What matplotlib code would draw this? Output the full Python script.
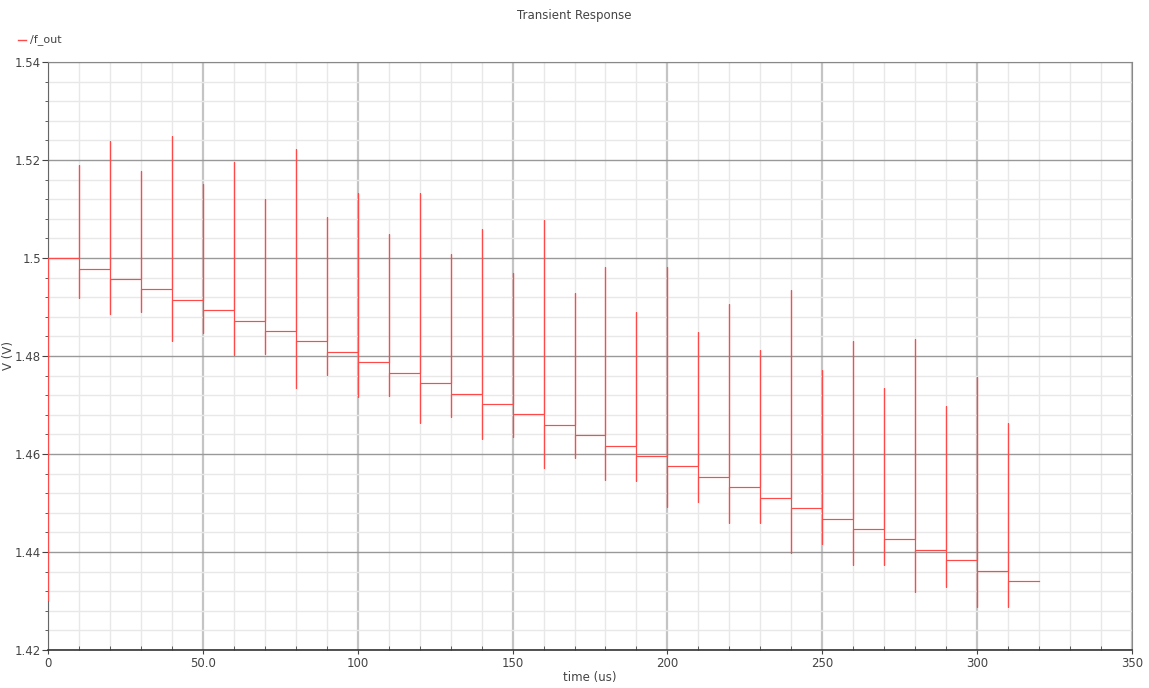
import matplotlib
matplotlib.use("Agg")
import matplotlib.pyplot as plt
from matplotlib.ticker import MultipleLocator
from matplotlib.lines import Line2D

# step times (us) and the settled level after each step
step_t = [0, 10, 20, 30, 40, 50, 60, 70, 80, 90, 100, 110, 120, 130, 140, 150,
          160, 170, 180, 190, 200, 210, 220, 230, 240, 250, 260, 270, 280, 290, 300, 310]
levels = [1.5000, 1.4978, 1.4957, 1.4936, 1.4915, 1.4893, 1.4872, 1.4851,
          1.4830, 1.4808, 1.4787, 1.4766, 1.4745, 1.4723, 1.4702, 1.4681,
          1.4660, 1.4638, 1.4617, 1.4596, 1.4575, 1.4553, 1.4532, 1.4511,
          1.4490, 1.4468, 1.4447, 1.4426, 1.4404, 1.4383, 1.4362, 1.4341]
# glitch extremes at each switching instant (t = 0 only has a low edge)
spike_hi = [1.5000, 1.5190, 1.5239, 1.5178, 1.5249, 1.5151, 1.5196, 1.5120,
            1.5222, 1.5084, 1.5133, 1.5049, 1.5133, 1.5008, 1.5059, 1.4969,
            1.5078, 1.4929, 1.4982, 1.4890, 1.4982, 1.4849, 1.4906, 1.4812,
            1.4935, 1.4771, 1.4831, 1.4735, 1.4835, 1.4698, 1.4757, 1.4663]
spike_lo = [1.4302, 1.4918, 1.4886, 1.4890, 1.4831, 1.4847, 1.4802, 1.4804,
            1.4735, 1.4761, 1.4716, 1.4718, 1.4663, 1.4676, 1.4631, 1.4635,
            1.4571, 1.4592, 1.4547, 1.4545, 1.4492, 1.4502, 1.4459, 1.4459,
            1.4398, 1.4416, 1.4373, 1.4373, 1.4318, 1.4329, 1.4288, 1.4288]
t_end = 320

# build the waveform path
xs, ys = [], []
for i, t in enumerate(step_t):
    if i > 0:
        xs += [t, t, t]
        ys += [levels[i - 1], spike_hi[i], spike_lo[i]]
    else:
        xs += [t]
        ys += [spike_lo[i]]
    xs.append(t)
    ys.append(levels[i])
xs.append(t_end)
ys.append(levels[-1])

plt.rcParams['font.family'] = ['DejaVu Sans']
fig = plt.figure(figsize=(11.49, 6.88), dpi=100, facecolor='white')
ax = fig.add_axes([48 / 1149, 38 / 688, 1084 / 1149, 588 / 688])

ax.plot(xs, ys, color='#ff4a4a', lw=0.85, zorder=3)

ax.set_xlim(0, 350)
ax.set_ylim(1.42, 1.54)

ax.xaxis.set_minor_locator(MultipleLocator(10))
ax.yaxis.set_minor_locator(MultipleLocator(0.004))
ax.set_xticks([0, 50, 100, 150, 200, 250, 300, 350])
ax.set_xticklabels(['0', '50.0', '100', '150', '200', '250', '300', '350'])
ax.set_yticks([1.42, 1.44, 1.46, 1.48, 1.50, 1.52, 1.54])
ax.set_yticklabels(['1.42', '1.44', '1.46', '1.48', '1.5', '1.52', '1.54'])

# grids: minor light, vertical majors pale and thick, horizontal majors darker
ax.grid(which='minor', color='#e8e8e8', lw=1.0)
ax.xaxis.grid(which='major', color='#c4c4c4', lw=1.6)
ax.yaxis.grid(which='major', color='#999999', lw=1.0)
ax.set_axisbelow(True)

ax.tick_params(axis='y', which='both', direction='out', color='#444444',
               labelsize=8.5, labelcolor='#444444', pad=1)
ax.tick_params(axis='y', which='major', length=4)
ax.tick_params(axis='y', which='minor', length=2.5)
ax.tick_params(axis='x', which='major', direction='out', length=3, color='#444444',
               labelsize=8.5, labelcolor='#444444', pad=2)
ax.tick_params(axis='x', which='minor', direction='in', length=3, color='#444444')

ax.spines['bottom'].set_color('#333333')
ax.spines['bottom'].set_linewidth(1.2)
ax.spines['left'].set_color('#666666')
ax.spines['top'].set_color('#888888')
ax.spines['right'].set_color('#888888')

ax.set_xlabel('time (us)', fontsize=8.5, color='#444444', labelpad=1)
ax.set_ylabel('V (V)', fontsize=8.5, color='#444444')
ax.yaxis.set_label_coords(-0.0305, 0.50)

fig.text(0.5, 1 - 15 / 688, 'Transient Response', ha='center', va='center',
         fontsize=8.5, color='#444444')
fig.add_artist(Line2D([18 / 1149, 26 / 1149], [1 - 40 / 688] * 2,
                      color='#ff4a4a', lw=1.0))
fig.text(30 / 1149, 1 - 40 / 688, '/f_out', ha='left', va='center',
         fontsize=8, color='#444444')

fig.savefig('out.png', dpi=100, facecolor='white')
